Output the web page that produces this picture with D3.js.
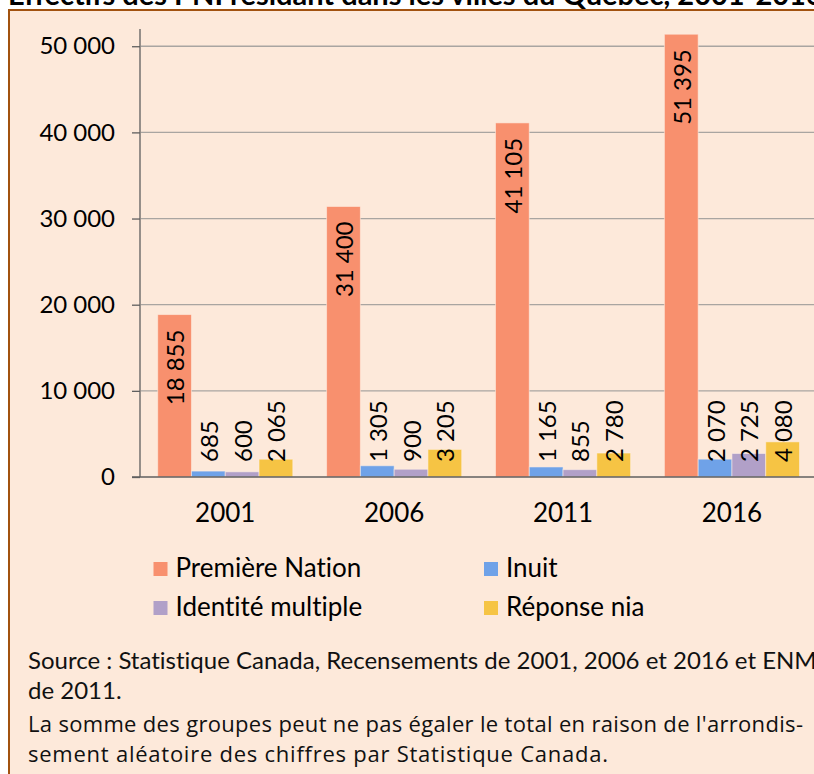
<!DOCTYPE html>
<html>
<head>
<meta charset="utf-8">
<script src="https://cdn.jsdelivr.net/npm/d3@7"></script>
<style>
  html, body { margin: 0; padding: 0; background: #fff; }
  svg { display: block; }
  text {
    font-variant-ligatures: none !important;
    font-feature-settings: "liga" 0, "clig" 0, "dlig" 0 !important;
  }
</style>
</head>
<body>
<div id="chart"></div>
<script>
const years = ['2001', '2006', '2011', '2016'];
const seriesNames = ['Première Nation', 'Inuit', 'Identité multiple', 'Réponse nia'];
const premiereNation = [18855, 31400, 41105, 51395];
const inuit = [685, 1305, 1165, 2070];
const identiteMultiple = [600, 900, 855, 2725];
const reponseNia = [2065, 3205, 2780, 4080];
const yTicks = [0, 10000, 20000, 30000, 40000, 50000];
const colors = ['#f8906e', '#6fa2e8', '#b1a0c8', '#f6c444'];

const W = 814, H = 774;
const FONT = 'Lato, "Noto Sans", sans-serif';
const NOTE_FONT = '"Open Sans", "Noto Sans", sans-serif';

const seriesValues = [premiereNation, inuit, identiteMultiple, reponseNia];
const rows = years.map((year, i) => ({
    year,
    values: seriesNames.map((name, s) => ({ name, s, v: seriesValues[s][i] }))
}));

const fmt = v => d3.format(',')(v).replace(/,/g, '\u202f');

const svg = d3.select('#chart').append('svg')
    .attr('width', W).attr('height', H);

// title: only its lower part shows above the frame, as in the source
svg.append('text')
    .attr('x', 8).attr('y', 5)
    .style('font', `bold 29px ${FONT}`)
    .attr('fill', '#000')
    .text('Effectifs des PNI résidant dans les villes du Québec, 2001-2016');

// frame
svg.append('rect')
    .attr('x', 9).attr('y', 10)
    .attr('width', W + 20).attr('height', H + 20)
    .attr('fill', '#fde9da')
    .attr('stroke', '#a2520f')
    .attr('stroke-width', 2);

const plot = { left: 140.8, right: 816.4, top: 29, bottom: 477 };

const y = d3.scaleLinear().domain([0, 52000]).range([plot.bottom, plot.top]);
const x0 = d3.scaleBand().domain(years).range([plot.left, plot.right]);
const bw = x0.bandwidth();
const x1 = d3.scaleBand().domain(seriesNames).range([bw * 0.1, bw * 0.9]);

// grid
svg.append('g')
    .selectAll('line')
    .data(yTicks.filter(d => d > 0))
    .join('line')
    .attr('x1', plot.left).attr('x2', W)
    .attr('y1', d => y(d)).attr('y2', d => y(d))
    .attr('stroke', '#a9a5a1')
    .attr('stroke-width', 1.3);

// y axis
const yAxis = svg.append('g')
    .attr('transform', `translate(${plot.left - 0.8},0)`)
    .call(d3.axisLeft(y).tickValues(yTicks).tickFormat(fmt).tickSizeOuter(0).tickSize(8).tickPadding(17));
yAxis.select('.domain').attr('stroke', '#5f5f5f').attr('stroke-width', 1.3)
    .attr('d', `M0,${plot.top}V${plot.bottom}`);
yAxis.selectAll('.tick line').attr('stroke', '#5f5f5f').attr('stroke-width', 1.3);
yAxis.selectAll('.tick text')
    .style('font', `24px ${FONT}`)
    .attr('fill', '#000');

// bars
const groups = svg.append('g')
    .selectAll('g')
    .data(rows)
    .join('g')
    .attr('transform', d => `translate(${x0(d.year)},0)`);

groups.selectAll('rect')
    .data(d => d.values)
    .join('rect')
    .attr('x', d => x1(d.name))
    .attr('width', x1.bandwidth())
    .attr('y', d => y(d.v))
    .attr('height', d => plot.bottom - y(d.v))
    .attr('fill', d => colors[d.s])
    .attr('stroke', 'rgba(255,240,230,0.55)')
    .attr('stroke-width', 1);

// x axis baseline
svg.append('line')
    .attr('x1', plot.left - 8.8).attr('x2', W)
    .attr('y1', plot.bottom).attr('y2', plot.bottom)
    .attr('stroke', '#5f5f5f')
    .attr('stroke-width', 1.3);

// data labels, rotated: first series inside the top, others from the base
groups.selectAll('text.lbl')
    .data(d => d.values)
    .join('text')
    .attr('class', 'lbl')
    .attr('transform', d => {
        const cx = x1(d.name) + x1.bandwidth() / 2;
        const ly = d.s === 0 ? y(d.v) + 15 : plot.bottom - 15;
        return `translate(${cx},${ly}) rotate(-90)`;
    })
    .attr('text-anchor', d => d.s === 0 ? 'end' : 'start')
    .attr('dominant-baseline', 'central')
    .style('font', `24px ${FONT}`)
    .attr('fill', '#000')
    .text(d => fmt(d.v));

// category labels
svg.append('g')
    .selectAll('text')
    .data(years)
    .join('text')
    .attr('x', d => x0(d) + bw / 2)
    .attr('y', 522)
    .attr('text-anchor', 'middle')
    .style('font', `26px ${FONT}`)
    .attr('fill', '#000')
    .text(d => d);

// legend
const legendPos = [
    { x: 153.5, y: 562 }, { x: 484, y: 562 },
    { x: 153.5, y: 601 }, { x: 484, y: 601 }
];
const legend = svg.append('g')
    .selectAll('g')
    .data(seriesNames)
    .join('g')
    .attr('transform', (d, i) => `translate(${legendPos[i].x},${legendPos[i].y})`);
legend.append('rect')
    .attr('width', 14).attr('height', 14)
    .attr('fill', (d, i) => colors[i]);
legend.append('text')
    .attr('x', 22).attr('y', 15)
    .style('font', `26px ${FONT}`)
    .attr('fill', '#000')
    .text(d => d);

// notes
const notes = [
    { t: 'Source : Statistique Canada, Recensements de 2001, 2006 et 2016 et ENM', y: 669, f: `24px ${FONT}` },
    { t: 'de 2011.', y: 699, f: `24px ${FONT}` },
    { t: "La somme des groupes peut ne pas égaler le total en raison de l'arrondis-", y: 731.5, f: `22px ${NOTE_FONT}`, len: 775 },
    { t: 'sement aléatoire des chiffres par Statistique Canada.', y: 761.5, f: `22px ${NOTE_FONT}`, len: 580 }
];
svg.append('g')
    .selectAll('text')
    .data(notes)
    .join('text')
    .attr('x', 28)
    .attr('y', d => d.y)
    .style('font', d => d.f)
    .attr('textLength', d => d.len || null)
    .attr('lengthAdjust', 'spacing')
    .attr('fill', '#111')
    .text(d => d.t);
</script>
</body>
</html>
